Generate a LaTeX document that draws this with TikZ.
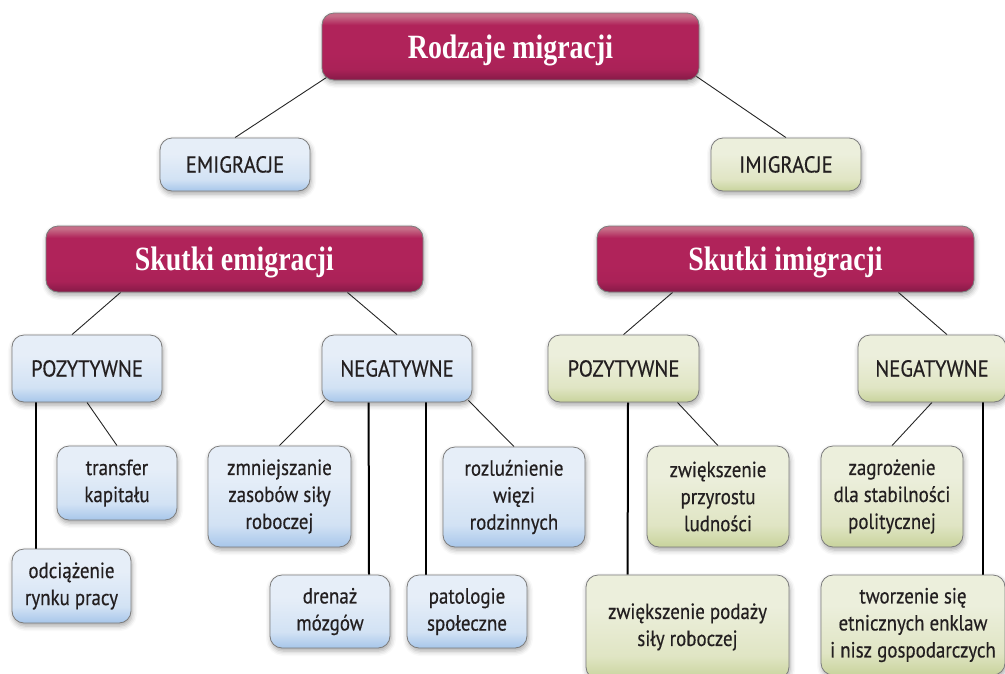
\documentclass[tikz,border=0pt]{standalone}
\usepackage{fontspec}
\newfontfamily\boxfont[FakeStretch=0.86,FakeBold=0.4]{PT Sans}
\newfontfamily\capsfont[FakeStretch=0.9,FakeBold=0.4]{PT Sans}
\newfontfamily\titlefont[FakeStretch=0.82]{Liberation Serif}
\usetikzlibrary{calc,shadows.blur,backgrounds}
\definecolor{magTop}{HTML}{C66E88}
\definecolor{magMid}{HTML}{B0235A}
\definecolor{magBot}{HTML}{861A47}
\definecolor{blueTop}{HTML}{E6EEF8}
\definecolor{blueMid}{HTML}{D2E2F4}
\definecolor{blueBot}{HTML}{A7C6EA}
\definecolor{greenTop}{HTML}{ECEFDC}
\definecolor{greenMid}{HTML}{E0E5C4}
\definecolor{greenBot}{HTML}{C8D39C}
\definecolor{txt}{HTML}{231F20}
\definecolor{edge}{HTML}{7C7C7C}
\pgfdeclareverticalshading{magshade}{100bp}{color(0bp)=(magBot); color(25bp)=(magBot); color(33bp)=(magMid!85!magBot); color(45bp)=(magMid); color(66bp)=(magMid); color(73bp)=(magTop); color(75bp)=(magTop); color(100bp)=(magTop)}
\pgfdeclareverticalshading{blueshade}{100bp}{color(0bp)=(blueBot); color(25bp)=(blueBot); color(36bp)=(blueMid); color(60bp)=(blueTop); color(75bp)=(blueTop); color(100bp)=(blueTop)}
\pgfdeclareverticalshading{greenshade}{100bp}{color(0bp)=(greenBot); color(25bp)=(greenBot); color(36bp)=(greenMid); color(60bp)=(greenTop); color(75bp)=(greenTop); color(100bp)=(greenTop)}
\begin{document}
\begin{tikzpicture}[x=1pt,y=-1pt,
  basebox/.style={rectangle, rounded corners=12pt, draw=edge, line width=0.8pt,
    inner sep=0pt, align=center,
    blur shadow={shadow xshift=1pt, shadow yshift=-3pt, shadow blur radius=5pt, shadow opacity=35}},
  magbox/.style={basebox, shading=magshade, text=white, text height=23pt, text depth=0pt,
    font=\titlefont\bfseries\fontsize{34}{40}\selectfont},
  bluebox/.style={basebox, shading=blueshade, text=txt,
    font=\boxfont\fontsize{22}{27}\selectfont},
  greenbox/.style={basebox, shading=greenshade, text=txt,
    font=\boxfont\fontsize{22}{27}\selectfont},
  capslabel/.style={font=\capsfont\fontsize{23}{27}\selectfont, text height=16pt, text depth=0pt},
  thin link/.style={draw=black!85, line width=0.9pt},
  thick link/.style={draw=black, line width=2pt}
]
\useasboundingbox (0,0) rectangle (1005,673);

\node[magbox, minimum width=377pt, minimum height=67pt] (rodz) at (510.5,46.5) {Rodzaje migracji};
\node[bluebox, capslabel, minimum width=150pt, minimum height=53pt] (emig) at (235,164.5) {EMIGRACJE};
\node[greenbox, capslabel, minimum width=150pt, minimum height=53pt] (imig) at (786,164.5) {IMIGRACJE};
\node[magbox, minimum width=377pt, minimum height=66pt] (skem) at (234.5,259) {Skutki emigracji};
\node[magbox, minimum width=377pt, minimum height=66pt] (skim) at (785.5,259) {Skutki imigracji};

\node[bluebox, capslabel, minimum width=150pt, minimum height=67pt] (ep) at (87,368.5) {POZYTYWNE};
\node[bluebox, capslabel, minimum width=150pt, minimum height=67pt] (en) at (397,368.5) {NEGATYWNE};
\node[greenbox, capslabel, minimum width=151pt, minimum height=67pt] (ip) at (623.5,368.5) {POZYTYWNE};
\node[greenbox, capslabel, minimum width=148pt, minimum height=67pt] (in) at (932,368.5) {NEGATYWNE};

\node[bluebox, minimum width=120pt, minimum height=74pt] (transfer) at (117,483) {transfer\\kapitału};
\node[bluebox, minimum width=119pt, minimum height=74pt] (odc) at (71.5,586) {odciążenie\\rynku pracy};
\node[bluebox, minimum width=143pt, minimum height=101pt] (zmn) at (279.5,496.5) {zmniejszanie\\zasobów siły\\roboczej};
\node[bluebox, minimum width=142pt, minimum height=100pt] (roz) at (514,497) {rozluźnienie\\więzi\\rodzinnych};
\node[bluebox, minimum width=120pt, minimum height=73pt] (dren) at (330,611.5) {drenaż\\mózgów};
\node[bluebox, minimum width=120pt, minimum height=73pt] (pat) at (467,611.5) {patologie\\społeczne};

\node[greenbox, minimum width=142pt, minimum height=101pt] (zprz) at (718,496.5) {zwiększenie\\przyrostu\\ludności};
\node[greenbox, minimum width=142pt, minimum height=101pt] (zagr) at (892,496.5) {zagrożenie\\dla stabilności\\politycznej};
\node[greenbox, minimum width=203pt, minimum height=104pt] (zpod) at (687.5,627) {zwiększenie podaży\\siły roboczej};
\node[greenbox, minimum width=184pt, minimum height=100pt] (tw) at (913,625) {tworzenie się\\etnicznych enklaw\\i nisz gospodarczych};

\begin{pgfonlayer}{background}
\draw[thin link] ($(rodz.south west)+(5,-3)$) -- (emig.north);
\draw[thin link] ($(rodz.south east)+(-3,-4)$) -- (imig.north);
\draw[thin link] ($(skem.south west)+(75,0)$) -- ($(ep.north)+(-15,0)$);
\draw[thin link] ($(skem.south east)+(-76,0)$) -- (en.north);
\draw[thin link] ($(skim.south west)+(76,0)$) -- (ip.north);
\draw[thin link] ($(skim.south east)+(-76,0)$) -- ($(in.north)+(15,0)$);

\draw[thick link] ($(ep.south west)+(24,0)$) -- ($(odc.north west)+(24,0)$);
\draw[thin link] (ep.south) -- (transfer.north);

\draw[thin link] ($(en.south west)+(3,-2)$) -- (zmn.north);
\draw[thick link] ($(en.south west)+(47,0)$) -- ($(dren.north)+(39,0)$);
\draw[thick link] ($(en.south)+(29,0)$) -- ($(pat.north)+(-41,0)$);
\draw[thin link] ($(en.south east)+(-4,-2)$) -- (roz.north);

\draw[thick link] ($(ip.south)+(4.5,0)$) -- ($(zpod.north west)+(42,0)$);
\draw[thin link] ($(ip.south east)+(-22,0)$) -- (zprz.north);

\draw[thin link] (in.south) -- (zagr.north);
\draw[thick link] ($(in.south east)+(-23,0)$) -- ($(tw.north east)+(-22,0)$);
\end{pgfonlayer}
\end{tikzpicture}
\end{document}
